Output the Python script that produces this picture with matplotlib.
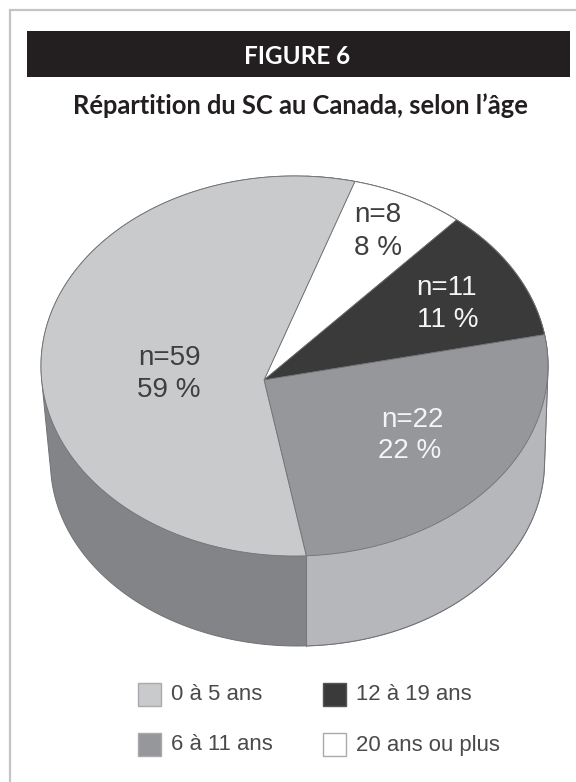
import numpy as np
import matplotlib
matplotlib.use('Agg')
import matplotlib.pyplot as plt
from matplotlib.patches import Polygon, Rectangle

# Age groups, clockwise from the top of the pie
age_groups = ['20 ans ou plus', '12 à 19 ans', '6 à 11 ans', '0 à 5 ans']
counts = [8, 11, 22, 59]
percents = [8, 11, 22, 59]

top_colors = ['#ffffff', '#3b3a3b', '#96979a', '#c9cacc']
label_colors = ['#3f3f40', '#f4f4f4', '#f4f4f4', '#3f3f40']
label_xy = [((378, 215), (378, 248)), ((447, 288), (448, 320)),
            ((412, 420), (410, 451)), ((170, 358), (169, 390))]

# Tilted-disc geometry, in pixels
TOP = dict(cx=294.5, cy=366.0, a=253.5, b=190.0)
LOW = dict(cx=297.5, cy=462.0, a=247.0, b=184.0)
APEX = (264.0, 380.0)
SHIFT = -0.06 + 0.10j      # perspective shift of the angles along the rim
START = 1.1519             # radians, rim angle of the first slice edge
EDGE = '#717275'
SIDE_LEFT, SIDE_RIGHT = '#838487', '#b6b7ba'
INK = '#231f20'


def ellipse(g, ang):
    return np.column_stack([g['cx'] + g['a'] * np.cos(ang), g['cy'] - g['b'] * np.sin(ang)])


def rim(frac):
    """Point on the top rim for a cumulative share of the whole."""
    z = np.exp(1j * (START - 2 * np.pi * np.asarray(frac)))
    m = (z + SHIFT) / (1 + np.conj(SHIFT) * z)
    return ellipse(TOP, np.angle(m))


def convex_hull(points):
    pts = sorted(map(tuple, points))

    def half(seq):
        out = []
        for p in seq:
            while len(out) > 1 and ((out[-1][0] - out[-2][0]) * (p[1] - out[-2][1])
                                    - (out[-1][1] - out[-2][1]) * (p[0] - out[-2][0])) <= 0:
                out.pop()
            out.append(p)
        return out[:-1]
    return np.array(half(pts) + half(pts[::-1]))


fig = plt.figure(figsize=(5.76, 7.82), dpi=100, facecolor='white')
ax = fig.add_axes([0, 0, 1, 1])
ax.set_xlim(0, 576)
ax.set_ylim(782, 0)
ax.axis('off')

# Frame: top and left rules only
ax.plot([576, 9.5, 9.5], [9.5, 9.5, 782], color='#c3c4c7', lw=1.6, solid_joinstyle='miter')

# Header bar and titles
ax.add_patch(Rectangle((27, 31), 543, 46, fc=INK, ec='none'))
ax.text(297.5, 64, 'FIGURE 6', color='white', family='Lato', weight='bold',
        fontsize=17.5, ha='center', va='baseline')
ax.text(300, 114, 'Répartition du SC au Canada, selon l’âge', color=INK, family='Lato',
        weight='bold', fontsize=18.4, ha='center', va='baseline')

# Side wall of the disc
total = float(sum(counts))
cum = np.concatenate([[0], np.cumsum(counts)]) / total
ang = np.linspace(0, 2 * np.pi, 721)
hull = convex_hull(np.vstack([ellipse(TOP, ang), ellipse(LOW, ang)]))
split_x = rim(cum[3:4])[0, 0]
left_wall = ax.add_patch(Polygon(hull, closed=True, fc=SIDE_LEFT, ec=EDGE, lw=0.7))
right_wall = ax.add_patch(Polygon(hull, closed=True, fc=SIDE_RIGHT, ec=EDGE, lw=0.7))
right_wall.set_clip_path(Rectangle((split_x, 0), 600, 782, transform=ax.transData))
ax.plot([split_x, split_x], [500, 646], color='#77787b', lw=0.8)

# Top face, one slice per age group
for i, color in enumerate(top_colors):
    n_pts = max(int(counts[i] * 6), 12)
    arc = rim(np.linspace(cum[i], cum[i + 1], n_pts))
    ax.add_patch(Polygon(np.vstack([[APEX], arc]), closed=True, fc=color, ec=EDGE, lw=0.6, zorder=3))

# Slice labels
for n, pct, color, (p1, p2) in zip(counts, percents, label_colors, label_xy):
    for text, (x, y) in ((f'n={n}', p1), (f'{pct} %', p2)):
        ax.text(x, y, text, color=color, family='Liberation Sans', fontsize=20,
                ha='center', va='center', zorder=4)

# Legend
legend_pos = {'0 à 5 ans': (138, 683), '6 à 11 ans': (138, 733),
              '12 à 19 ans': (323, 683), '20 ans ou plus': (323, 733)}
for name, color in zip(age_groups, top_colors):
    x, y = legend_pos[name]
    ax.add_patch(Rectangle((x, y), 23, 23, fc=color, ec='#a9aaad' if color != '#3b3a3b' else '#555',
                           lw=1.0))
    ax.text(x + 33, y + 12, name, color='#4a4a4c', family='Liberation Sans', fontsize=15.9,
            ha='left', va='center')

fig.savefig('out.png', dpi=100, facecolor='white')
